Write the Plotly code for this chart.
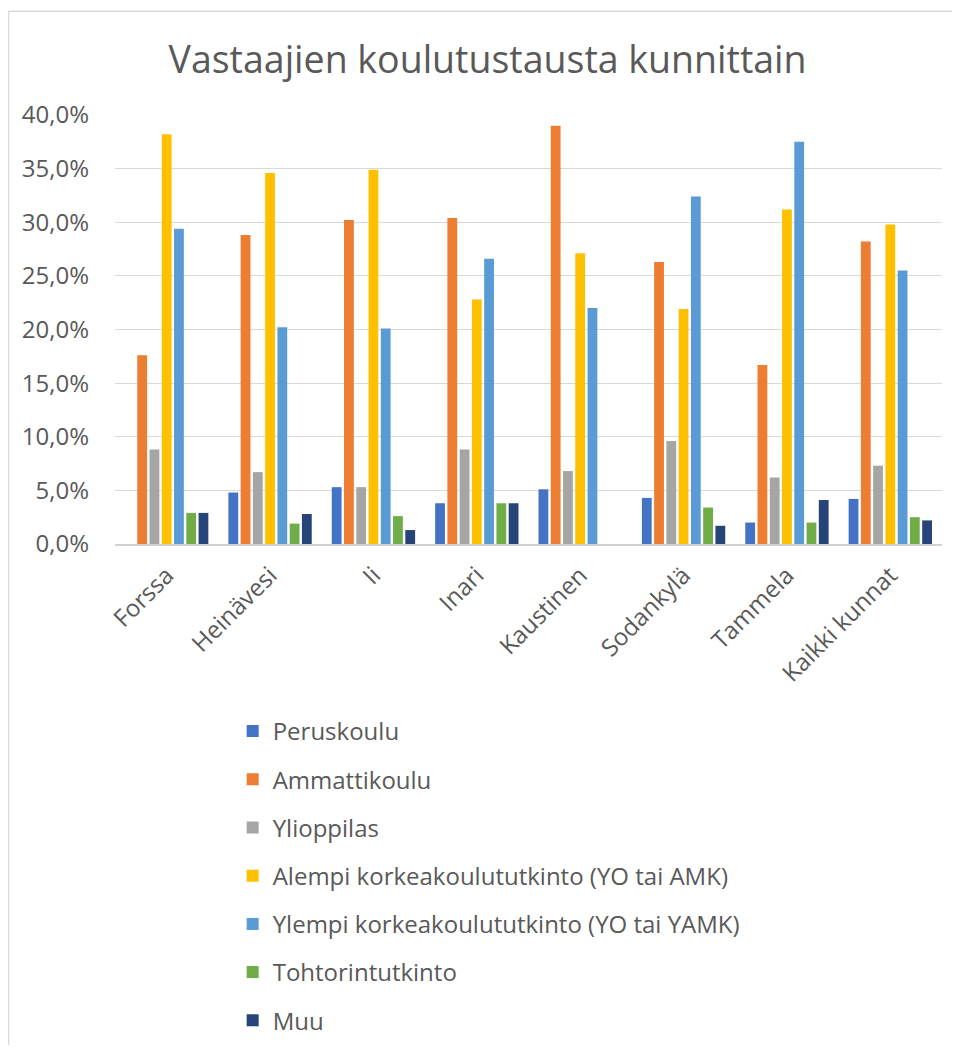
import plotly.graph_objects as go

categories = ["Forssa", "Heinävesi", "Ii", "Inari", "Kaustinen", "Sodankylä", "Tammela", "Kaikki kunnat"]

peruskoulu = [None, 4.8, 5.3, 3.8, 5.1, 4.3, 2.0, 4.2]
ammattikoulu = [17.6, 28.8, 30.2, 30.4, 39.0, 26.3, 16.7, 28.2]
ylioppilas = [8.8, 6.7, 5.3, 8.8, 6.8, 9.6, 6.2, 7.3]
alempi = [38.2, 34.6, 34.9, 22.8, 27.1, 21.9, 31.2, 29.8]
ylempi = [29.4, 20.2, 20.1, 26.6, 22.0, 32.4, 37.5, 25.5]
tohtori = [2.9, 1.9, 2.6, 3.8, None, 3.4, 2.0, 2.5]
muu = [2.9, 2.8, 1.3, 3.8, None, 1.7, 4.1, 2.2]

series_names = ["Peruskoulu", "Ammattikoulu", "Ylioppilas",
                "Alempi korkeakoulututkinto (YO tai AMK)",
                "Ylempi korkeakoulututkinto (YO tai YAMK)",
                "Tohtorintutkinto", "Muu"]
series_values = [peruskoulu, ammattikoulu, ylioppilas, alempi, ylempi, tohtori, muu]
colors = ["#4472C4", "#ED7D31", "#A5A5A5", "#FFC000", "#5B9BD5", "#70AD47", "#264478"]

tick_vals = [0, 5, 10, 15, 20, 25, 30, 35, 40]
tick_text = ["0,0%", "5,0%", "10,0%", "15,0%", "20,0%", "25,0%", "30,0%", "35,0%", "40,0%"]

fig = go.Figure()
for i, (name, vals, col) in enumerate(zip(series_names, series_values, colors)):
    fig.add_trace(go.Bar(
        x=categories, y=vals, name=name, legendgroup=f"g{i}",
        marker=dict(color=col, line=dict(width=0)),
    ))

fig.update_layout(
    width=944, height=1037,
    paper_bgcolor="white", plot_bgcolor="white",
    font=dict(family="Open Sans", color="#595959", size=24),
    title=dict(text="Vastaajien koulutustausta kunnittain", x=0.508, xanchor="center",
               y=0.950, yanchor="middle", font=dict(size=37.5, color="#595959")),
    margin=dict(l=107, r=10, t=107, b=501, autoexpand=False),
    barmode="group", bargap=0.17, bargroupgap=0.2,
    showlegend=True,
    legend=dict(orientation="v", xref="container", yref="container",
                x=0.238, y=0.324, xanchor="left", yanchor="top",
                font=dict(size=24, color="#595959"), tracegroupgap=14,
                itemwidth=30),
    xaxis=dict(showgrid=False, tickangle=-45, showline=True, linecolor="#D0D0D0",
               linewidth=1.5, ticks="", ticklabelstandoff=6,
               tickfont=dict(size=24, color="#595959")),
    yaxis=dict(range=[0, 40], tickvals=tick_vals, ticktext=tick_text,
               showgrid=True, gridcolor="#D9D9D9", gridwidth=1, zeroline=False,
               ticks="", ticklabelstandoff=25, tickfont=dict(size=24, color="#595959")),
)

fig.add_shape(type="line", xref="paper", yref="paper", x0=-0.1288, x1=1.1, y0=1.242, y1=1.242,
              line=dict(color="#D9D9D9", width=1.5))
fig.add_shape(type="line", xref="paper", yref="paper", x0=-0.1288, x1=-0.1288, y0=1.242, y1=-1.3,
              line=dict(color="#D9D9D9", width=1.5))

fig.write_html("out.html")
